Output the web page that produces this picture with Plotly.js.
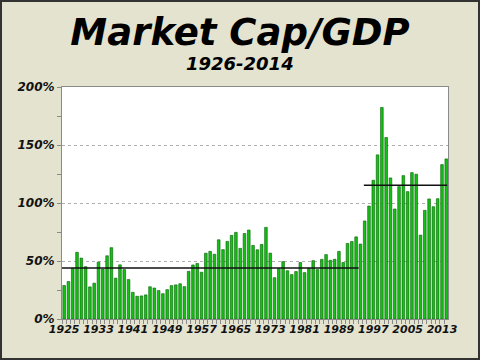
<!DOCTYPE html>
<html>
<head>
<meta charset="utf-8">
<script src="https://cdn.plot.ly/plotly-3.0.1.min.js"></script>
<style>
html,body{margin:0;padding:0;background:#e3e3cf;}
#wrap{position:relative;width:480px;height:360px;}
#chart{width:480px;height:360px;}
#frame{position:absolute;left:0;top:0;width:480px;height:360px;box-sizing:border-box;border:2px solid #333;pointer-events:none;}
</style>
</head>
<body>
<div id="wrap"><div id="chart"></div><div id="frame"></div></div>
<script>
// Years 1925..2014 (one bar per year)
var years = [];
for (var y = 1925; y <= 2014; y++) years.push(y);

// Market cap / GDP (%)
var ratio = [
  28.9, 32.3, 43.8, 57.5, 52.5, 45.1, 27.7, 30.9, 49.0, 43.0,
  54.5, 61.5, 35.2, 46.7, 42.6, 34.0, 23.0, 19.6, 19.9, 20.8,
  27.8, 26.7, 24.5, 21.8, 25.3, 28.8, 29.4, 30.4, 27.9, 41.1,
  46.6, 47.9, 40.3, 56.7, 58.3, 55.8, 68.3, 59.8, 66.9, 72.1,
  74.7, 60.9, 73.7, 76.7, 63.4, 59.7, 64.3, 79.0, 56.8, 35.6,
  43.6, 49.5, 41.6, 38.3, 40.9, 48.7, 40.0, 43.7, 50.3, 42.6,
  51.4, 55.5, 50.6, 51.5, 58.3, 48.7, 65.1, 66.8, 70.8, 64.6,
  84.5, 97.4, 119.6, 141.5, 182.4, 156.5, 121.6, 94.8, 114.1, 123.6,
  109.8, 126.2, 124.8, 72.3, 93.7, 103.5, 96.8, 103.7, 133.1, 138.0
];

// Average lines (period start/end and level)
var avg1X = [1924.5, 1993.6];
var avg1Y = [43.9, 43.9];
var avg2X = [1994.8, 2014.2];
var avg2Y = [115.4, 115.4];

// Tick labels
var xTicks = [1925, 1933, 1941, 1949, 1957, 1965, 1973, 1981, 1989, 1997, 2005, 2013];
var yTicks = [0, 50, 100, 150, 200];
var yTickText = ['0%', '50%', '100%', '150%', '200%'];

var fam = 'DejaVu Sans, Verdana, sans-serif';

var traces = [
  {
    type: 'bar', x: years, y: ratio, width: 0.62,
    marker: {color: '#14c014', line: {color: '#0a5a0a', width: 0.6}},
    hoverinfo: 'x+y', showlegend: false
  },
  {
    type: 'scatter', mode: 'lines', x: avg1X, y: avg1Y,
    line: {color: '#111', width: 1.5}, showlegend: false
  },
  {
    type: 'scatter', mode: 'lines', x: avg2X, y: avg2Y,
    line: {color: '#111', width: 1.5}, showlegend: false
  }
];

var layout = {
  width: 480, height: 360,
  paper_bgcolor: '#e3e3cf', plot_bgcolor: '#ffffff',
  margin: {l: 62, r: 32, t: 87, b: 41},
  bargap: 0,
  title: {
    text: '<b><i>Market Cap/GDP</i></b>',
    font: {family: fam, size: 37, color: '#000'},
    x: 0.5, xanchor: 'center', y: 0.912, yanchor: 'middle'
  },
  annotations: [{
    text: '<b><i>1926-2014</i></b>', xref: 'paper', yref: 'paper',
    x: 0.461, y: 1, yshift: 24, xanchor: 'center', yanchor: 'middle', showarrow: false,
    font: {family: fam, size: 18, color: '#000'}
  }],
  xaxis: {
    range: [1924.5, 2014.4],
    tickvals: xTicks, ticktext: xTicks.map(function(v){return '<b><i>' + v + '</i></b>';}),
    tickangle: 0,
    ticks: '', tickfont: {family: fam, size: 11, color: '#111'},
    showgrid: false, zeroline: false,
    showline: true, linecolor: '#8a8a8a', linewidth: 1, mirror: true,
    minor: {dtick: 1, tick0: 1924.5, ticks: 'outside', ticklen: 4, tickcolor: '#8a8a8a', showgrid: false},
    fixedrange: true
  },
  yaxis: {
    range: [0, 200],
    tickvals: yTicks, ticktext: yTickText.map(function(v){return '<b><i>' + v + '</i></b>';}),
    ticks: 'outside', ticklen: 4, tickcolor: '#8a8a8a',
    tickfont: {family: fam, size: 12, color: '#111'},
    showgrid: true, gridcolor: '#b0b0b0', griddash: 'dot', gridwidth: 1,
    zeroline: false,
    showline: true, linecolor: '#8a8a8a', linewidth: 1, mirror: true,
    minor: {dtick: 25, ticks: 'outside', ticklen: 4, tickcolor: '#8a8a8a', showgrid: false},
    fixedrange: true
  }
};

Plotly.newPlot('chart', traces, layout, {displayModeBar: false, staticPlot: true});
</script>
</body>
</html>
